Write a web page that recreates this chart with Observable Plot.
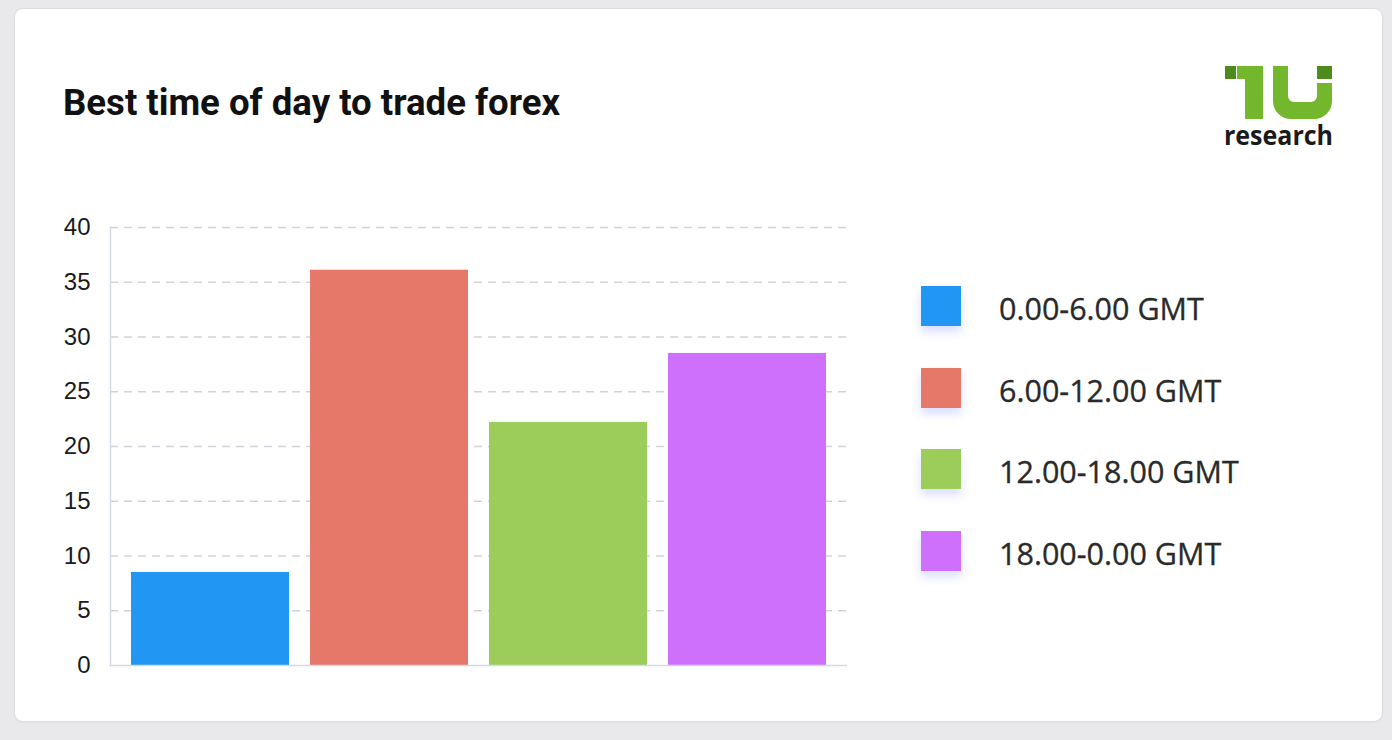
<!DOCTYPE html>
<html>
<head>
<meta charset="utf-8">
<script src="https://cdn.jsdelivr.net/npm/d3@7"></script>
<script src="https://cdn.jsdelivr.net/npm/@observablehq/plot@0.6"></script>
<style>
  html, body { margin: 0; padding: 0; }
  body { width: 1392px; height: 740px; background: #e9e9eb; position: relative; overflow: hidden; font-family: Roboto, sans-serif; }
  #card { position: absolute; left: 15px; top: 9px; width: 1367px; height: 712px; background: #fff; border-radius: 8px; box-shadow: 0 0 0 1px #dcdde1, 0 1px 3px rgba(0,0,0,0.06); }
  #title { position: absolute; left: 63px; top: 85px; font-family: Roboto, sans-serif; font-weight: 700; font-size: 36.6px; line-height: 36px; color: #111; white-space: nowrap; }
  #chart { position: absolute; left: 0; top: 200px; }
  #legend { position: absolute; left: 921px; top: 286px; }
  .item { display: flex; align-items: center; height: 40px; margin-bottom: 41.7px; }
  .sw { width: 40px; height: 40px; box-shadow: 0 6px 9px rgba(90,110,255,0.22); flex: none; }
  .lab { margin-left: 38px; font-family: "Open Sans", sans-serif; font-weight: 500; font-size: 30.5px; color: #2a2a2a; white-space: nowrap; position: relative; top: 2px; -webkit-text-stroke: 0.3px #2a2a2a; }
  #logo { position: absolute; left: 0; top: 0; }
</style>
</head>
<body>
<div id="card"></div>
<div id="title">Best time of day to trade forex</div>
<svg id="logo" width="1392" height="170">
  <rect x="1225" y="66" width="11" height="13" fill="#4d8b1c"/>
  <rect x="1237" y="66" width="26" height="13" fill="#73b82c"/>
  <rect x="1245" y="66" width="18" height="53" fill="#73b82c"/>
  <path d="M1273,66 V101 A18,18 0 0 0 1291,119 H1314 A18,18 0 0 0 1332,101 V83 H1317 V96 A6,6 0 0 1 1311,102 H1294 A6,6 0 0 1 1288,96 V66 Z" fill="#73b82c"/>
  <rect x="1317" y="66" width="15" height="13" fill="#4d8b1c"/>
  <text x="1224" y="145" font-family="Open Sans, sans-serif" font-weight="700" font-size="26" fill="#1a1a1a" textLength="109" lengthAdjust="spacingAndGlyphs">research</text>
</svg>
<div id="chart"></div>
<div id="legend"></div>
<script>
const categories = ["0.00-6.00 GMT", "6.00-12.00 GMT", "12.00-18.00 GMT", "18.00-0.00 GMT"];
const values = [8.5, 36.1, 22.2, 28.5];
const colors = ["#2196f3", "#e57868", "#9ccc5a", "#cf70fc"];
const yTicks = [0, 5, 10, 15, 20, 25, 30, 35, 40];

const data = categories.map((c, i) => ({category: c, value: values[i]}));

const plot = Plot.plot({
  width: 900,
  height: 480,
  marginLeft: 110,
  marginRight: 53,
  marginTop: 27,
  marginBottom: 15,
  style: {fontFamily: "'Liberation Sans', Arial, sans-serif", fontSize: "24px", color: "#1a1a1a", background: "transparent", overflow: "visible"},
  x: {domain: categories, paddingInner: 0.12, paddingOuter: 0.113, axis: null},
  y: {domain: [0, 40], axis: null},
  color: {domain: categories, range: colors},
  marks: [
    Plot.gridY(yTicks.filter(d => d > 0), {stroke: "#cfd3dc", strokeOpacity: 1, strokeDasharray: "8,6", strokeWidth: 1.3}),
    Plot.barY(data, {x: "category", y: "value", fill: "category"}),
    Plot.frame({anchor: "left", stroke: "#d3d9e2", strokeWidth: 1.5}),
    Plot.ruleY([0], {stroke: "#d3d9e2", strokeWidth: 1.5}),
    Plot.axisY({ticks: yTicks, tickSize: 0, tickPadding: 20, label: null, fill: "#1a1a1a"})
  ]
});
document.getElementById("chart").appendChild(plot);

const legend = document.getElementById("legend");
categories.forEach((c, i) => {
  const item = document.createElement("div");
  item.className = "item";
  const sw = document.createElement("div");
  sw.className = "sw";
  sw.style.background = colors[i];
  const lab = document.createElement("div");
  lab.className = "lab";
  lab.textContent = c;
  item.appendChild(sw);
  item.appendChild(lab);
  legend.appendChild(item);
});
</script>
</body>
</html>
